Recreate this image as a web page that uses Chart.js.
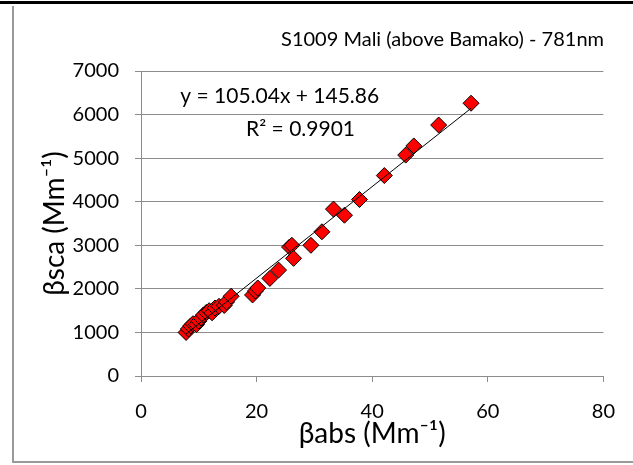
<!DOCTYPE html>
<html>
<head>
<meta charset="utf-8">
<script src="https://cdn.jsdelivr.net/npm/chart.js@4"></script>
<style>
  html, body { margin: 0; padding: 0; background: #fff; }
  body { width: 633px; height: 465px; position: relative; overflow: hidden; }
  .topline { position: absolute; left: 0; top: 1px; width: 633px; height: 3px; background: #000; }
  .frame {
    position: absolute; left: 12px; top: 6px; width: 621px; height: 455px;
    border-left: 2px solid #9a9a9a; border-bottom: 2px solid #9a9a9a;
  }
  canvas { display: block; }
</style>
</head>
<body>
<div class="topline"></div>
<div class="frame"><canvas id="chart" width="619" height="455"></canvas></div>
<script>
// Absorption vs scattering coefficients, S1009 flight leg over Bamako
const absValues = [
  7.8, 8.2, 8.6, 9.0, 9.6, 10.0, 10.4, 10.8, 11.3, 11.8, 12.3, 12.8, 13.5, 14.4, 14.8, 15.6,
  19.3, 19.8, 20.2, 22.3, 23.8, 25.7, 26.1, 26.4, 29.4, 31.3, 33.3, 35.2, 37.8,
  42.1, 45.8, 47.2, 51.5, 57.1
];
const scaValues = [
  1000, 1080, 1150, 1200, 1180, 1260, 1330, 1400, 1460, 1500, 1450, 1560, 1600, 1620, 1700, 1830,
  1860, 1950, 2020, 2240, 2430, 2960, 3000, 2700, 3000, 3310, 3830, 3690, 4050,
  4600, 5070, 5280, 5760, 6260
];

// Linear fit as reported on the chart
const fitSlope = 105.04;
const fitIntercept = 145.86;
const fitR2 = 0.9901;

const xTicks = [0, 20, 40, 60, 80];
const yTicks = [0, 1000, 2000, 3000, 4000, 5000, 6000, 7000];

const FONT = "Lato, 'Open Sans', sans-serif";
const GRID = "#8c8c8c";

const points = absValues.map((x, i) => ({ x, y: scaValues[i] }));
const xMin = Math.min(...absValues);
const xMax = Math.max(...absValues);
const fitLine = [xMin, xMax].map((x) => ({ x, y: fitSlope * x + fitIntercept }));

// Draws the regression equation and R² inside the plot, anchored in data units
const fitLabel = {
  id: "fitLabel",
  afterDatasetsDraw(chart) {
    const { ctx, scales } = chart;
    ctx.save();
    ctx.fillStyle = "#000";
    ctx.font = `21px ${FONT}`;
    ctx.textAlign = "center";
    ctx.textBaseline = "middle";
    ctx.fillText(
      `y = ${fitSlope.toFixed(2)}x + ${fitIntercept.toFixed(2)}`,
      scales.x.getPixelForValue(24.0),
      scales.y.getPixelForValue(6420)
    );
    ctx.fillText(
      `R² = ${fitR2.toFixed(4)}`,
      scales.x.getPixelForValue(27.6),
      scales.y.getPixelForValue(5660)
    );
    ctx.restore();
  },
};

new Chart(document.getElementById("chart"), {
  type: "scatter",
  data: {
    datasets: [
      {
        label: "Linear fit",
        data: fitLine,
        showLine: true,
        borderColor: "#000",
        borderWidth: 1,
        pointRadius: 0,
        order: 0,
      },
      {
        label: "βsca vs βabs",
        data: points,
        pointStyle: "rectRot",
        pointRadius: 8,
        backgroundColor: "#ff0000",
        borderColor: "#000",
        borderWidth: 1,
        order: 1,
      },
    ],
  },
  options: {
    responsive: false,
    animation: false,
    layout: { padding: { left: 0, right: 29, top: 0, bottom: 0 } },
    plugins: {
      legend: { display: false },
      tooltip: { enabled: false },
      title: {
        display: true,
        text: "S1009 Mali (above Bamako) - 781nm",
        align: "end",
        color: "#000",
        font: { family: FONT, size: 20, weight: "normal", lineHeight: 1.2 },
        padding: { top: 22, bottom: 19 },
      },
    },
    scales: {
      x: {
        type: "linear",
        min: 0,
        max: 80,
        afterBuildTicks: (scale) => { scale.ticks = xTicks.map((v) => ({ value: v })); },
        afterFit: (scale) => { scale.height = 85; },
        grid: { drawOnChartArea: false, drawTicks: true, tickLength: 6, color: GRID },
        border: { display: true, color: GRID },
        ticks: { color: "#000", padding: 18, font: { family: FONT, size: 20 } },
        title: {
          display: true,
          text: "βabs (Mm⁻¹)",
          color: "#000",
          font: { family: FONT, size: 28 },
          padding: { top: 0, bottom: 10 },
        },
      },
      y: {
        type: "linear",
        min: 0,
        max: 7000,
        afterBuildTicks: (scale) => { scale.ticks = yTicks.map((v) => ({ value: v })); },
        afterFit: (scale) => { scale.width = 127; },
        grid: { drawOnChartArea: true, drawTicks: true, tickLength: 6, color: GRID },
        border: { display: true, color: GRID },
        ticks: {
          color: "#000",
          padding: 16,
          font: { family: FONT, size: 20 },
          callback: (v) => String(v),
        },
        title: {
          display: true,
          text: "βsca (Mm⁻¹)",
          color: "#000",
          font: { family: FONT, size: 28 },
          padding: { top: 24, bottom: 0 },
        },
      },
    },
  },
  plugins: [fitLabel],
});
</script>
</body>
</html>
